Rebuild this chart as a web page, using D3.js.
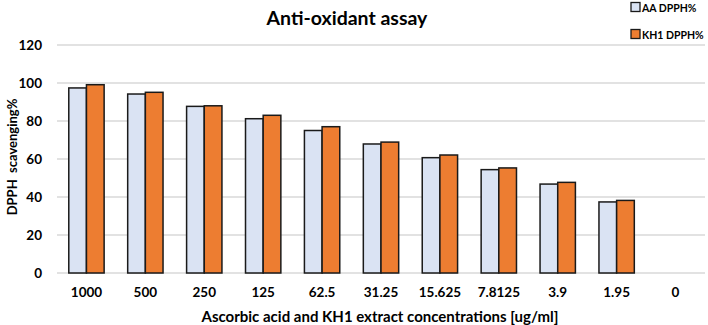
<!DOCTYPE html>
<html>
<head>
<meta charset="utf-8">
<script src="https://cdn.jsdelivr.net/npm/d3@7"></script>
<style>
  body { margin: 0; background: #fff; }
  text { font-family: Lato, "Open Sans", sans-serif; font-weight: bold; fill: #000; }
</style>
</head>
<body>
<svg id="chart"></svg>
<script>
// concentrations on the x axis
var concentrations = ["1000","500","250","125","62.5","31.25","15.625","7.8125","3.9","1.95","0"]
var seriesNames = ["AA DPPH%","KH1 DPPH%"]
var aaValues  = [97.4, 94.2, 87.7, 81.2, 75.0, 67.9, 60.7, 54.4, 46.8, 37.4, 0]
var kh1Values = [99.1, 95.1, 88.0, 83.0, 77.0, 68.9, 62.1, 55.3, 47.7, 38.2, 0]
var yTicks = [0,20,40,60,80,100,120]
var colors = ["#dae3f3","#ed7d31"]

var screen = {width:708,height:325}
var margins = {left:57,right:3,top:45,bottom:52}
var graph = {
    width: screen.width-margins.left-margins.right,
    height: screen.height-margins.top-margins.bottom
}

var svg = d3.select("#chart")
    .attr("width",screen.width)
    .attr("height",screen.height)

var target = svg.append("g")
    .attr("transform","translate("+margins.left+","+margins.top+")")

var xScale = d3.scaleBand()
    .domain(concentrations)
    .range([0,graph.width])
    .paddingInner(0.4)
    .paddingOuter(0.2)

var subScale = d3.scaleBand()
    .domain([0,1])
    .range([0,xScale.bandwidth()])

var yScale = d3.scaleLinear()
    .domain([0,120])
    .range([graph.height,0])

//gridlines
target.append("g")
    .selectAll("line")
    .data(yTicks)
    .enter()
    .append("line")
    .attr("x1",0)
    .attr("x2",graph.width)
    .attr("y1",function(d){return yScale(d)})
    .attr("y2",function(d){return yScale(d)})
    .attr("stroke","#d9d9d9")
    .attr("stroke-width",1.3)

//bars
var rows = concentrations.map(function(c,i){
    return {conc:c, vals:[aaValues[i],kh1Values[i]]}
})

var groups = target.selectAll(".grp")
    .data(rows)
    .enter()
    .append("g")
    .attr("class","grp")
    .attr("transform",function(d){return "translate("+xScale(d.conc)+",0)"})

groups.selectAll("rect")
    .data(function(d){return d.vals.map(function(v,k){return {k:k,v:v}})})
    .enter()
    .filter(function(d){return d.v>0})
    .append("rect")
    .attr("x",function(d){return subScale(d.k)})
    .attr("y",function(d){return yScale(d.v)})
    .attr("width",subScale.bandwidth())
    .attr("height",function(d){return graph.height-yScale(d.v)})
    .attr("fill",function(d){return colors[d.k]})
    .attr("stroke","#1a1a1a")
    .attr("stroke-width",1.5)

//y axis
var yAxis = d3.axisLeft(yScale).tickValues(yTicks).tickSize(0).tickPadding(15)
var yG = target.append("g").call(yAxis)
yG.select(".domain").remove()
yG.selectAll("text").attr("font-size",13.5).attr("font-family",null)

//x axis
var xAxis = d3.axisBottom(xScale).tickSize(0).tickPadding(14)
var xG = target.append("g")
    .attr("transform","translate(0,"+graph.height+")")
    .call(xAxis)
xG.select(".domain").remove()
xG.selectAll("text").attr("font-size",13.5).attr("font-family",null)

//labels
svg.append("text")
    .text("Anti-oxidant assay")
    .attr("text-anchor","middle")
    .attr("x",347)
    .attr("y",25)
    .attr("font-size",19.5)

svg.append("text")
    .text("Ascorbic acid and KH1 extract concentrations [ug/ml]")
    .attr("text-anchor","middle")
    .attr("x",380)
    .attr("y",322)
    .attr("font-size",15)

svg.append("g")
    .attr("transform","translate(17,"+(margins.top+graph.height/2-2)+")")
    .append("text")
    .text("DPPH\u00a0\u00a0scavenging%")
    .attr("text-anchor","middle")
    .attr("transform","rotate(-90)")
    .attr("font-size",13)

//legend
var legend = svg.append("g")
    .attr("transform","translate(631,0)")
var items = legend.selectAll("g")
    .data(seriesNames)
    .enter()
    .append("g")
    .attr("transform",function(d,i){return "translate(0,"+(7+i*27)+")"})
items.append("rect")
    .attr("x",0)
    .attr("y",-4.5)
    .attr("width",9)
    .attr("height",9)
    .attr("fill",function(d,i){return colors[i]})
    .attr("stroke","#1a1a1a")
    .attr("stroke-width",1.3)
items.append("text")
    .text(function(d){return d})
    .attr("x",11)
    .attr("y",4.5)
    .attr("font-size",10.5)
</script>
</body>
</html>
